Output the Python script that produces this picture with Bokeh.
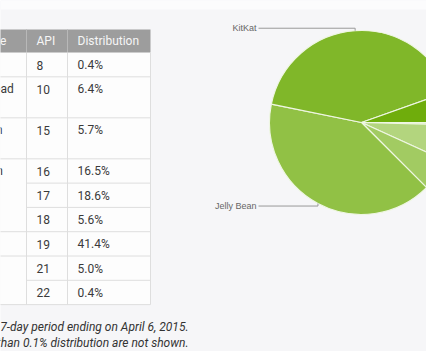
import math
import textwrap
from bokeh.plotting import figure
from bokeh.models import Range1d
from bokeh.core.properties import value
from bokeh.embed import file_html
from bokeh.resources import INLINE

# ---------------- data ----------------
versions = ["2.2", "2.3.3 -\n2.3.7", "4.0.3 -\n4.0.4", "4.1.x", "4.2.x", "4.3", "4.4", "5.0", "5.1"]
codenames = ["Froyo", "Gingerbread", "Ice Cream Sandwich", "Jelly Bean", "Jelly Bean",
             "Jelly Bean", "KitKat", "Lollipop", "Lollipop"]
api_levels = [8, 10, 15, 16, 17, 18, 19, 21, 22]
distribution = [0.4, 6.4, 5.7, 16.5, 18.6, 5.6, 41.4, 5.0, 0.4]
headers = ["Codename", "API", "Distribution"]
footnote = ["Data collected during a 7-day period ending on April 6, 2015.",
            "Any versions with less than 0.1% distribution are not shown."]
slice_colors = ["#c4df9b", "#b3d57e", "#a2cb62", "#91c145", "#80b729", "#6fad0c"]

# pie values: distribution summed per codename (in table order)
pie_labels = []
pie_values = []
for cn, d in zip(codenames, distribution):
    if pie_labels and pie_labels[-1] == cn:
        pie_values[-1] += d
    else:
        pie_labels.append(cn)
        pie_values.append(d)

# ---------------- figure ----------------
W, H = 426, 351
p = figure(width=W, height=H, x_range=Range1d(0, W), y_range=Range1d(0, H),
           output_backend="svg", toolbar_location=None,
           x_axis_location=None, y_axis_location=None, min_border=0,
           background_fill_color="#f6f6f8", border_fill_color="#f6f6f8")
p.grid.visible = False
p.outline_line_color = None


def Y(y):
    return H - y


# light top band
p.quad(left=[0], right=[W], top=[Y(0)], bottom=[Y(9)], fill_color="#fcfcfd", line_color=None)

# ---------------- table ----------------
FONT = value("Roboto")
col_edges = [-62, 26, 67, 150]
pad = 10
header_top, header_bot = 29, 52
unit = 24.3
tall = 41
line_gap = 14

wrapped = [textwrap.wrap(c, 10, break_long_words=False) for c in codenames]
row_h = []
for v, w in zip(versions, wrapped):
    n = max(len(v.split("\n")), len(w))
    row_h.append(unit if n == 1 else tall)
row_top = [header_bot]
for h in row_h:
    row_top.append(row_top[-1] + h)
table_bot = row_top[-1]

# body background
p.quad(left=[col_edges[0]], right=[col_edges[-1]], top=[Y(header_bot)], bottom=[Y(table_bot)],
       fill_color="#fdfdfd", line_color=None)
# header
p.quad(left=[col_edges[0]], right=[col_edges[-1]], top=[Y(header_top)], bottom=[Y(header_bot)],
       fill_color="#9d9d9d", line_color=None)
p.segment(x0=col_edges[1:3], y0=[Y(header_top)] * 2, x1=col_edges[1:3], y1=[Y(header_bot)] * 2,
          line_color="#b8b8b8", line_width=1)
p.text(x=[e + pad for e in col_edges[:3]], y=[Y((header_top + header_bot) / 2)] * 3, text=headers,
       text_font=FONT, text_font_size="12px", text_color="#f6f6f6",
       text_baseline="middle", text_align="left")

grid_col = "#dedede"
# vertical lines in body
p.segment(x0=col_edges[1:], y0=[Y(header_bot)] * 3, x1=col_edges[1:], y1=[Y(table_bot)] * 3,
          line_color=grid_col, line_width=1)
# horizontal lines
hx0, hx1, hy = [], [], []
for i in range(1, len(row_top)):
    y = row_top[i]
    same = i < len(codenames) and codenames[i] == codenames[i - 1]
    hx0.append(col_edges[1] if same else col_edges[0])
    hx1.append(col_edges[-1])
    hy.append(Y(y))
p.segment(x0=hx0, y0=hy, x1=hx1, y1=hy, line_color=grid_col, line_width=1)

# cell texts
tx, ty, tt = [], [], []
for i in range(len(codenames)):
    top = row_top[i]
    if i == 0 or codenames[i] != codenames[i - 1]:
        for k, ln in enumerate(wrapped[i]):
            tx.append(col_edges[0] + pad)
            ty.append(Y(top + 12.5 + k * line_gap))
            tt.append(ln)
    tx.append(col_edges[1] + pad)
    ty.append(Y(top + 12.5))
    tt.append(str(api_levels[i]))
    tx.append(col_edges[2] + pad)
    ty.append(Y(top + 12.5))
    tt.append(f"{distribution[i]:.1f}%")
p.text(x=tx, y=ty, text=tt, text_font=FONT, text_font_size="12px", text_color="#3a3a3a",
       text_baseline="middle", text_align="left")

# footnote
p.text(x=[188, 188], y=[Y(table_bot + 22), Y(table_bot + 38)], text=footnote,
       text_font=FONT, text_font_size="12px", text_font_style="italic", text_color="#333333",
       text_baseline="middle", text_align="right")

# ---------------- pie ----------------
cx, cy, r = 361, Y(122), 92
total = sum(pie_values)
starts, ends = [], []
cum = 0.0
for v in pie_values:
    a0 = -2 * math.pi * cum / total
    cum += v
    a1 = -2 * math.pi * cum / total
    starts.append(a1)
    ends.append(a0)
p.wedge(x=[cx] * len(pie_values), y=[cy] * len(pie_values), radius=r,
        start_angle=starts, end_angle=ends, direction="anticlock",
        fill_color=slice_colors, line_color="#eef6e2", line_width=1.2)

# leader lines and labels for large slices
label_x = cx - r - 11
for lab, v, s, e in zip(pie_labels, pie_values, starts, ends):
    if v / total < 0.10:
        continue
    mid = (s + e) / 2
    ex = cx + r * math.cos(mid)
    ey = cy + r * math.sin(mid)
    ey2 = ey + 2.5 if math.sin(mid) > 0 else ey - 2.5
    p.line(x=[label_x, ex, ex], y=[ey2, ey2, ey], line_color="#999999", line_width=1)
    p.text(x=[label_x - 2], y=[ey2], text=[lab], text_font=value("Liberation Sans"),
           text_font_size="9px", text_color="#666666", text_baseline="middle", text_align="right")

open("out.html", "w").write(file_html(p, INLINE))
